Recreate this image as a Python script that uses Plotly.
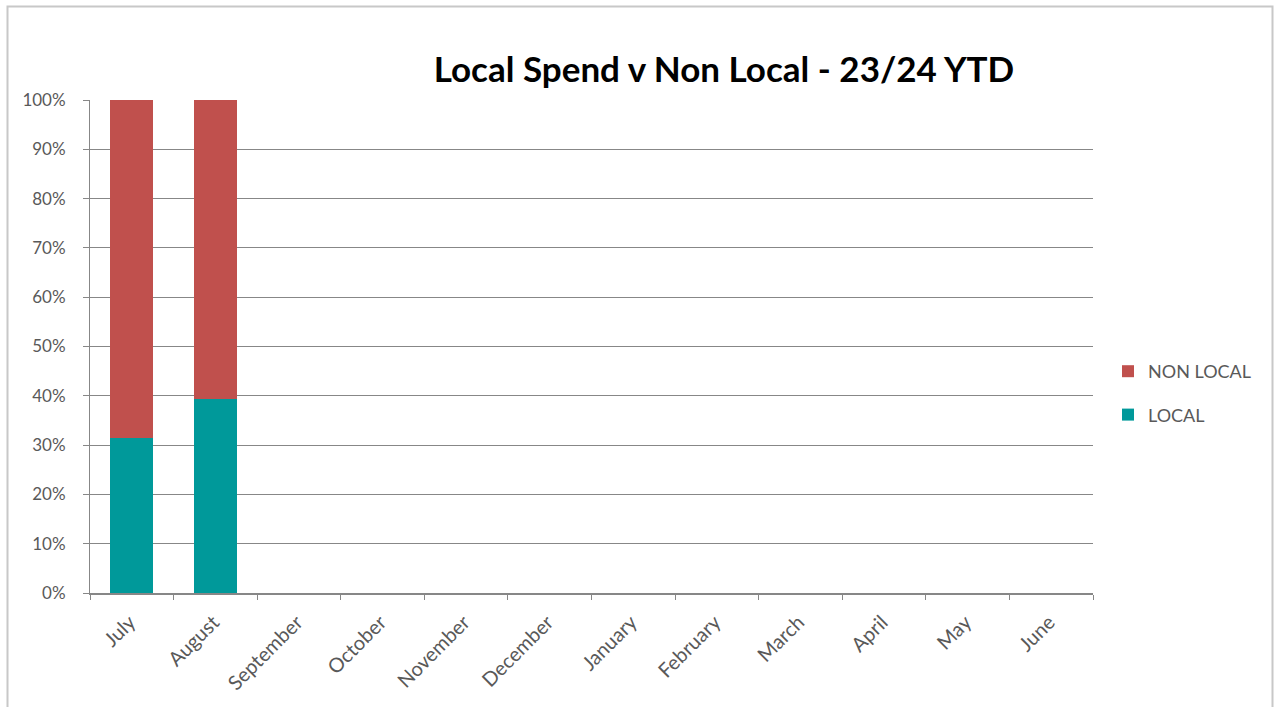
import plotly.graph_objects as go

# Monthly share of spend, financial year 23/24 (year to date)
months = ["July", "August", "September", "October", "November", "December",
          "January", "February", "March", "April", "May", "June"]
local_share = [0.315, 0.393, None, None, None, None, None, None, None, None, None, None]
non_local_share = [0.685, 0.607, None, None, None, None, None, None, None, None, None, None]

W, H = 1275, 707
L, R, T, B = 90, 182, 100, 114
PW, PH = W - L - R, H - T - B


def px(x):
    return (x - L) / PW


def py(y):
    return 1 - (y - T) / PH


GRID = "#878787"
TEXT = "#595959"
FONT = "Lato, 'Open Sans', sans-serif"

fig = go.Figure()
fig.add_trace(go.Bar(name="LOCAL", x=months, y=local_share,
                     legendgroup="local", legendrank=2,
                     marker=dict(color="#00999A", line=dict(width=0))))
fig.add_trace(go.Bar(name="NON LOCAL", x=months, y=non_local_share,
                     legendgroup="nonlocal", legendrank=1,
                     marker=dict(color="#C0504D", line=dict(width=0))))

# Outer chart frame
fig.add_shape(type="rect", xref="paper", yref="paper",
              x0=px(7.5), x1=px(1272.5), y0=py(730), y1=py(6.5),
              line=dict(color="#C8C8C8", width=2), layer="below")

fig.update_layout(
    width=W, height=H,
    margin=dict(l=L, r=R, t=T, b=B, pad=0),
    paper_bgcolor="white", plot_bgcolor="white",
    barmode="stack", bargap=0.485,
    title=dict(text="<b>Local Spend v Non Local - 23/24 YTD</b>",
               x=724 / W, xanchor="center",
               y=1 - 70 / H, yanchor="middle",
               font=dict(family=FONT, size=35, color="#000000")),
    font=dict(family=FONT, size=17, color=TEXT),
    legend=dict(x=px(1108), xanchor="left", y=py(393), yanchor="middle",
                traceorder="grouped", tracegroupgap=17,
                itemwidth=30, itemsizing="constant",
                font=dict(family=FONT, size=18, color=TEXT),
                bgcolor="rgba(0,0,0,0)"),
    showlegend=True,
)

fig.update_xaxes(type="category", categoryorder="array", categoryarray=months,
                 range=[-0.5, 11.5],
                 showline=True, linecolor=GRID, linewidth=1.5,
                 ticks="outside", tickson="boundaries", ticklen=5,
                 tickcolor=GRID, tickwidth=1,
                 ticklabelstandoff=8, ticklabelshift=-2,
                 tickangle=-45, tickfont=dict(family=FONT, size=20, color=TEXT),
                 showgrid=False, zeroline=False, fixedrange=True)

fig.update_yaxes(range=[0, 1], tickformat=".0%", dtick=0.1, tick0=0,
                 showline=True, linecolor=GRID, linewidth=1,
                 ticks="outside", ticklen=6, tickcolor=GRID,
                 showgrid=True, gridcolor=GRID, gridwidth=1,
                 zeroline=False, ticklabelstandoff=14,
                 tickfont=dict(family=FONT, size=17, color=TEXT),
                 fixedrange=True)

fig.write_html("out.html")
